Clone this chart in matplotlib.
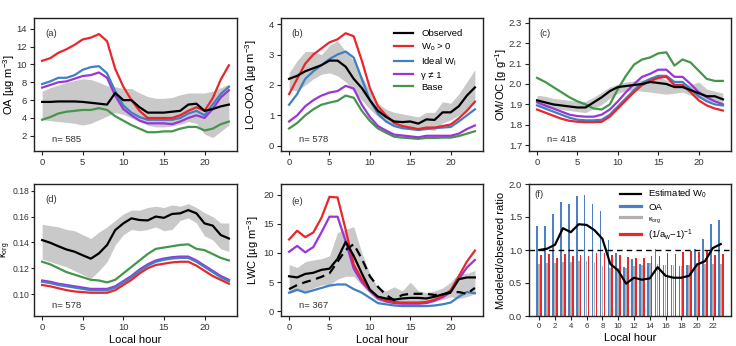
import matplotlib
matplotlib.use("Agg")
import matplotlib.pyplot as plt
from matplotlib.lines import Line2D
import numpy as np

plt.rcParams['font.family'] = ['Liberation Sans', 'DejaVu Sans']
plt.rcParams['mathtext.fontset'] = 'custom'
plt.rcParams['mathtext.rm'] = 'Liberation Sans'
plt.rcParams['mathtext.it'] = 'Liberation Sans:italic'

hours = list(range(24))

# (a) OA
a_obs = [5.8, 5.8, 5.85, 5.85, 5.85, 5.8, 5.7, 5.6, 5.5, 6.8, 6.0, 6.0, 5.2, 4.6, 4.6, 4.6, 4.7, 4.8, 5.5, 5.6, 4.8, 5.0, 5.3, 5.5]
a_lo = [3.8, 3.7, 3.6, 3.5, 3.4, 3.2, 3.4, 3.8, 4.2, 4.6, 4.4, 4.0, 3.6, 3.2, 3.0, 3.0, 3.1, 3.3, 3.6, 3.4, 2.2, 1.8, 2.5, 3.2]
a_hi = [7.0, 7.4, 7.7, 8.0, 8.2, 8.4, 8.3, 8.0, 7.6, 7.5, 7.3, 7.3, 6.8, 6.4, 6.2, 6.2, 6.3, 6.6, 6.8, 6.8, 6.8, 7.0, 7.4, 7.8]
a_wo = [10.4, 10.7, 11.3, 11.7, 12.2, 12.8, 13.0, 13.4, 12.6, 9.5, 7.5, 6.0, 4.8, 4.0, 4.0, 4.0, 4.0, 4.3, 4.8, 5.2, 4.8, 6.2, 8.3, 9.9]
a_ideal = [7.8, 8.1, 8.5, 8.5, 8.8, 9.4, 9.7, 9.8, 9.0, 7.0, 5.4, 4.6, 4.1, 3.8, 3.8, 3.8, 3.8, 4.0, 4.5, 4.8, 4.3, 5.5, 6.7, 7.5]
a_gamma = [7.4, 7.7, 8.0, 8.1, 8.4, 8.7, 8.8, 9.1, 8.5, 6.5, 5.0, 4.3, 3.7, 3.4, 3.4, 3.4, 3.3, 3.6, 4.0, 4.3, 4.0, 5.0, 6.3, 7.1]
a_base = [3.8, 4.1, 4.5, 4.7, 4.8, 4.9, 4.9, 5.1, 4.9, 4.2, 3.7, 3.2, 2.8, 2.4, 2.4, 2.5, 2.5, 2.8, 3.0, 3.0, 2.6, 2.8, 3.3, 3.6]

# (b) LO-OOA
b_obs = [2.2, 2.3, 2.45, 2.55, 2.65, 2.8, 2.8, 2.6, 2.2, 1.9, 1.5, 1.15, 0.95, 0.8, 0.78, 0.8, 0.73, 0.87, 0.85, 1.1, 1.1, 1.3, 1.65, 1.92]
b_lo = [1.85, 1.8, 2.0, 2.2, 2.35, 2.4, 2.3, 2.1, 1.8, 1.5, 1.2, 0.95, 0.8, 0.65, 0.6, 0.62, 0.55, 0.55, 0.5, 0.75, 0.85, 1.0, 1.2, 1.4]
b_hi = [2.4, 2.8, 3.1, 3.1, 3.0, 3.3, 3.45, 3.1, 2.8, 2.3, 1.8, 1.4, 1.2, 1.1, 1.05, 1.0, 0.95, 1.1, 1.1, 1.45, 1.4, 1.7, 2.1, 2.5]
b_wo = [1.7, 2.2, 2.7, 3.0, 3.2, 3.4, 3.5, 3.7, 3.6, 2.8, 1.9, 1.3, 1.0, 0.75, 0.65, 0.6, 0.55, 0.6, 0.6, 0.65, 0.7, 0.9, 1.15, 1.45]
b_ideal = [1.35, 1.7, 2.2, 2.45, 2.65, 2.85, 3.0, 3.1, 2.9, 2.2, 1.5, 1.05, 0.8, 0.65, 0.58, 0.55, 0.52, 0.55, 0.58, 0.6, 0.62, 0.8, 1.0, 1.2]
b_gamma = [0.8, 1.0, 1.3, 1.5, 1.65, 1.75, 1.8, 1.97, 1.88, 1.35, 0.95, 0.65, 0.5, 0.37, 0.34, 0.31, 0.28, 0.33, 0.33, 0.33, 0.33, 0.4, 0.55, 0.67]
b_base = [0.57, 0.75, 1.0, 1.2, 1.35, 1.42, 1.48, 1.65, 1.58, 1.15, 0.82, 0.57, 0.43, 0.3, 0.27, 0.25, 0.23, 0.26, 0.26, 0.27, 0.27, 0.32, 0.4, 0.48]

# (c) OM/OC
c_obs = [1.92, 1.91, 1.90, 1.895, 1.89, 1.885, 1.885, 1.91, 1.935, 1.965, 1.985, 1.99, 1.995, 2.0, 2.01, 2.005, 2.0, 1.985, 1.985, 1.97, 1.955, 1.94, 1.94, 1.925]
c_lo = [1.89, 1.885, 1.88, 1.875, 1.87, 1.865, 1.86, 1.88, 1.9, 1.93, 1.955, 1.965, 1.97, 1.965, 1.96, 1.955, 1.95, 1.955, 1.96, 1.945, 1.93, 1.915, 1.915, 1.905]
c_hi = [1.945, 1.94, 1.93, 1.925, 1.92, 1.915, 1.915, 1.935, 1.96, 1.985, 2.0, 2.01, 2.015, 2.02, 2.03, 2.035, 2.02, 2.005, 2.005, 1.995, 2.01, 1.975, 1.965, 1.955]
c_wo = [1.875, 1.86, 1.845, 1.83, 1.82, 1.815, 1.813, 1.813, 1.815, 1.84, 1.88, 1.92, 1.96, 1.995, 2.015, 2.03, 2.035, 1.995, 1.995, 1.96, 1.92, 1.895, 1.88, 1.87]
c_ideal = [1.895, 1.88, 1.865, 1.85, 1.835, 1.825, 1.822, 1.822, 1.825, 1.85, 1.89, 1.93, 1.97, 2.005, 2.025, 2.04, 2.04, 2.01, 2.01, 1.975, 1.94, 1.915, 1.9, 1.895]
c_gamma = [1.91, 1.895, 1.88, 1.865, 1.85, 1.843, 1.84, 1.84, 1.85, 1.875, 1.915, 1.96, 2.0, 2.035, 2.05, 2.07, 2.07, 2.035, 2.035, 2.0, 1.96, 1.935, 1.915, 1.9]
c_base = [2.03, 2.01, 1.985, 1.96, 1.935, 1.915, 1.9, 1.88, 1.875, 1.9, 1.975, 2.04, 2.095, 2.12, 2.13, 2.15, 2.155, 2.09, 2.12, 2.105, 2.065, 2.025, 2.015, 2.015]

# (d) kappa_org
d_obs = [0.1418, 0.1397, 0.137, 0.1345, 0.1328, 0.130, 0.1274, 0.1315, 0.138, 0.1495, 0.1547, 0.1586, 0.1573, 0.157, 0.160, 0.159, 0.162, 0.1625, 0.165, 0.1625, 0.1547, 0.153, 0.1457, 0.143]
d_lo = [0.127, 0.125, 0.123, 0.121, 0.118, 0.115, 0.112, 0.118, 0.125, 0.138, 0.146, 0.150, 0.149, 0.150, 0.152, 0.149, 0.150, 0.157, 0.159, 0.155, 0.145, 0.142, 0.135, 0.133]
d_hi = [0.154, 0.153, 0.152, 0.150, 0.149, 0.146, 0.143, 0.148, 0.152, 0.157, 0.162, 0.165, 0.165, 0.167, 0.168, 0.167, 0.169, 0.168, 0.170, 0.167, 0.163, 0.160, 0.155, 0.155]
d_wo = [0.107, 0.106, 0.1045, 0.103, 0.102, 0.1015, 0.101, 0.101, 0.101, 0.103, 0.107, 0.111, 0.116, 0.120, 0.1225, 0.1235, 0.1245, 0.125, 0.125, 0.122, 0.118, 0.114, 0.111, 0.108]
d_ideal = [0.1095, 0.1085, 0.107, 0.106, 0.105, 0.104, 0.103, 0.103, 0.103, 0.105, 0.109, 0.113, 0.118, 0.122, 0.125, 0.1265, 0.1275, 0.128, 0.128, 0.125, 0.121, 0.117, 0.113, 0.110]
d_gamma = [0.1105, 0.1095, 0.108, 0.107, 0.106, 0.105, 0.104, 0.104, 0.104, 0.106, 0.110, 0.114, 0.119, 0.123, 0.126, 0.1275, 0.1285, 0.129, 0.129, 0.126, 0.122, 0.118, 0.114, 0.111]
d_base = [0.125, 0.123, 0.120, 0.117, 0.115, 0.113, 0.111, 0.1105, 0.109, 0.111, 0.116, 0.121, 0.126, 0.131, 0.135, 0.136, 0.137, 0.138, 0.1385, 0.135, 0.134, 0.131, 0.128, 0.126]

# (e) LWC
e_obs = [6.0, 5.8, 6.4, 6.6, 7.1, 7.3, 9.0, 11.9, 9.5, 6.5, 3.7, 2.5, 2.2, 2.0, 2.2, 2.3, 2.3, 2.2, 2.5, 2.9, 3.3, 5.5, 5.8, 5.8]
e_obs2 = [3.8, 4.5, 5.0, 5.4, 5.9, 6.5, 8.5, 10.5, 11.5, 9.0, 6.0, 4.2, 2.8, 1.9, 2.8, 3.0, 3.0, 3.0, 2.8, 2.9, 3.2, 3.3, 3.0, 4.0]
e_lo = [3.0, 3.5, 3.5, 4.0, 4.5, 4.5, 5.5, 6.0, 6.0, 4.5, 3.0, 1.8, 1.5, 1.3, 1.5, 1.5, 1.5, 1.5, 1.7, 2.0, 2.5, 2.2, 2.5, 3.0]
e_hi = [8.0, 7.5, 8.5, 8.8, 9.0, 9.5, 13.5, 14.0, 14.5, 10.0, 6.5, 4.0, 3.5, 4.2, 3.5, 5.0, 3.5, 3.2, 3.5, 4.0, 5.0, 6.5, 6.5, 7.0]
e_wo = [12.3, 13.8, 12.7, 13.5, 16.0, 19.6, 19.5, 14.0, 8.0, 5.5, 3.7, 2.4, 1.9, 1.6, 1.5, 1.5, 1.5, 1.6, 2.0, 2.6, 3.6, 6.0, 8.5, 10.4]
e_gamma = [10.2, 11.2, 10.1, 11.0, 13.5, 16.2, 16.2, 12.0, 7.3, 5.0, 3.5, 2.2, 1.7, 1.4, 1.3, 1.3, 1.3, 1.4, 1.8, 2.4, 3.3, 5.5, 7.5, 8.8]
e_ideal = [3.2, 3.7, 3.2, 3.6, 4.0, 4.4, 4.6, 4.6, 3.8, 3.2, 2.3, 1.4, 1.2, 1.0, 0.9, 0.9, 0.9, 0.9, 1.0, 1.2, 1.5, 2.5, 3.3, 3.1]

# (f) ratios
f_oa = [1.36, 1.36, 1.55, 1.72, 1.70, 1.82, 1.83, 1.70, 1.59, 1.15, 0.96, 0.74, 0.87, 0.79, 0.80, 1.01, 0.78, 0.78, 0.76, 0.78, 1.01, 1.16, 1.40, 1.46]
f_kappa = [0.79, 0.80, 0.80, 0.82, 0.82, 0.83, 0.83, 0.80, 0.76, 0.73, 0.72, 0.73, 0.76, 0.78, 0.80, 0.79, 0.78, 0.77, 0.76, 0.78, 0.80, 0.79, 0.79, 0.79]
f_aw = [0.92, 0.94, 0.88, 0.94, 0.91, 0.92, 0.91, 0.95, 0.95, 0.93, 0.92, 0.90, 0.88, 0.88, 0.91, 0.91, 0.96, 0.94, 0.97, 0.98, 0.97, 0.98, 0.93, 0.94]
f_w0 = [1.0, 1.02, 1.08, 1.33, 1.27, 1.39, 1.38, 1.30, 1.17, 0.79, 0.69, 0.49, 0.58, 0.55, 0.57, 0.74, 0.61, 0.58, 0.58, 0.61, 0.78, 0.83, 1.03, 1.09]

RED = '#e8262b'
BLUE = '#3f7fc4'
PURPLE = '#9a35d6'
GREEN = '#44964a'
BAND = '#c9c9c9'
BAR_BLUE = '#4b80c2'
BAR_GREY = '#b0b0b0'
BAR_RED = '#e8282b'
LW = 1.6
TXT = '#333333'

W, H = 736, 346
fig = plt.figure(figsize=(W / 100, H / 100), dpi=100)

def box(l, t, w, h):
    return [l / W, 1 - (t + h) / H, w / W, h / H]

ax_a = fig.add_axes(box(34, 18, 203, 133))
ax_b = fig.add_axes(box(281, 18, 202, 133))
ax_c = fig.add_axes(box(529, 18, 202, 133))
ax_d = fig.add_axes(box(34, 184, 203, 132))
ax_e = fig.add_axes(box(281, 184, 202, 132))
ax_f = fig.add_axes(box(529, 184, 202, 132))

TICK_FS = 6.8
LAB_FS = 8.0
SMALL_FS = 6.8

def style(ax):
    ax.tick_params(labelsize=TICK_FS, direction='out', length=3, width=0.8, pad=2,
                   colors='#222222', labelcolor=TXT)
    for s in ax.spines.values():
        s.set_linewidth(1.0)
        s.set_color('#222222')

def tags(ax, tag, ntext, ty, ny, tx=0.054, nx=0.09):
    ax.text(tx, ty, tag, transform=ax.transAxes, fontsize=SMALL_FS, color=TXT, va='center')
    if ntext:
        ax.text(nx, ny, ntext, transform=ax.transAxes, fontsize=SMALL_FS, color=TXT, va='center')

def panel(ax, obs, lo, hi, wo, ideal, gamma, base, ylim, yticks, ylabel, labx, labfs=LAB_FS):
    ax.fill_between(hours, lo, hi, color=BAND, lw=0, zorder=1)
    ax.plot(hours, base, color=GREEN, lw=LW, zorder=3, label='Base')
    ax.plot(hours, gamma, color=PURPLE, lw=LW, zorder=3, label='γ ≠ 1')
    ax.plot(hours, ideal, color=BLUE, lw=LW, zorder=3, label='Ideal W$_\\mathregular{i}$')
    ax.plot(hours, wo, color=RED, lw=LW, zorder=3, label='W$_\\mathregular{o}$ > 0')
    ax.plot(hours, obs, color='black', lw=LW, zorder=4, label='Observed')
    ax.set_xlim(-1, 24)
    ax.set_xticks([0, 5, 10, 15, 20])
    ax.set_ylim(*ylim)
    ax.set_yticks(yticks)
    ax.set_ylabel(ylabel, fontsize=labfs)
    ax.yaxis.set_label_coords(labx, 0.5)
    style(ax)

panel(ax_a, a_obs, a_lo, a_hi, a_wo, a_ideal, a_gamma, a_base, (0.3, 15.2), [2, 4, 6, 8, 10, 12, 14],
      'OA [µg m$^{-3}$]', -0.082)
tags(ax_a, '(a)', 'n= 585', 0.88, 0.09)
panel(ax_b, b_obs, b_lo, b_hi, b_wo, b_ideal, b_gamma, b_base, (-0.17, 4.2), [0, 1, 2, 3, 4],
      'LO−OOA [µg m$^{-3}$]', -0.108)
tags(ax_b, '(b)', 'n= 578', 0.886, 0.088, tx=0.053)
panel(ax_c, c_obs, c_lo, c_hi, c_wo, c_ideal, c_gamma, c_base, (1.672, 2.323), [1.7, 1.8, 1.9, 2.0, 2.1, 2.2, 2.3],
      'OM/OC [g g$^{-1}$]', -0.099)
tags(ax_c, '(c)', 'n= 418', 0.88, 0.09, tx=0.05, nx=0.088)
panel(ax_d, d_obs, d_lo, d_hi, d_wo, d_ideal, d_gamma, d_base, (0.083, 0.1852), [0.10, 0.12, 0.14, 0.16, 0.18],
      'κ$_\\mathregular{org}$', -0.104, labfs=7.0)
ax_d.set_yticklabels(['0.10', '0.12', '0.14', '0.16', '0.18'])
ax_d.tick_params(axis='y', labelsize=6.2, pad=1, length=2.5)
tags(ax_d, '(d)', 'n= 578', 0.88, 0.078)

# legend in (b)
h, l = ax_b.get_legend_handles_labels()
order = [4, 3, 2, 1, 0]
ax_b.legend([h[i] for i in order], [l[i] for i in order], loc='upper left', frameon=False,
            fontsize=SMALL_FS, handlelength=2.0, handletextpad=0.9, labelspacing=0.3,
            borderpad=0.2, borderaxespad=0.0, bbox_to_anchor=(0.55, 0.93))

# (e)
ax_e.fill_between(hours, e_lo, e_hi, color=BAND, lw=0, zorder=1)
ax_e.plot(hours, e_ideal, color=BLUE, lw=LW, zorder=3)
ax_e.plot(hours, e_gamma, color=PURPLE, lw=LW, zorder=3)
ax_e.plot(hours, e_wo, color=RED, lw=LW, zorder=3)
ax_e.plot(hours, e_obs, color='black', lw=LW, zorder=4)
ax_e.plot(hours, e_obs2, color='black', lw=LW, ls=(0, (4, 2.5)), zorder=4)
ax_e.set_xlim(-1, 24)
ax_e.set_xticks([0, 5, 10, 15, 20])
ax_e.set_ylim(-0.8, 21.8)
ax_e.set_yticks([0, 5, 10, 15, 20])
ax_e.set_ylabel('LWC [µg m$^{-3}$]', fontsize=LAB_FS)
ax_e.yaxis.set_label_coords(-0.099, 0.5)
style(ax_e)
tags(ax_e, '(e)', 'n= 367', 0.87, 0.076, tx=0.053)

# (f)
x = np.arange(24)
bw = 0.2
ax_f.bar(x - 0.25, f_oa, width=bw, color=BAR_BLUE, zorder=2)
ax_f.bar(x, f_kappa, width=bw, color=BAR_GREY, zorder=2)
ax_f.bar(x + 0.25, f_aw, width=bw, color=BAR_RED, zorder=2)
ax_f.plot(x, f_w0, color='black', lw=LW, zorder=4)
ax_f.axhline(1.0, color='black', lw=1.0, ls=(0, (4, 3)), zorder=3)
ax_f.set_xlim(-1.3, 24.3)
ax_f.set_xticks(list(range(0, 24, 2)))
ax_f.set_ylim(0, 2.0)
ax_f.set_yticks([0.0, 0.5, 1.0, 1.5, 2.0])
ax_f.set_ylabel('Modeled/observed ratio', fontsize=LAB_FS)
ax_f.yaxis.set_label_coords(-0.112, 0.5)
style(ax_f)
ax_f.tick_params(axis='x', labelsize=5.6)
tags(ax_f, '(f)', None, 0.917, 0.0, tx=0.025)
handles_f = [Line2D([], [], color='black', lw=LW),
             Line2D([], [], color=BAR_BLUE, lw=2.3),
             Line2D([], [], color=BAR_GREY, lw=2.3),
             Line2D([], [], color=BAR_RED, lw=2.3)]
labels_f = ['Estimated W$_\\mathregular{0}$', 'OA', 'κ$_\\mathregular{org}$', '(1/a$_\\mathregular{w}$−1)$^{-1}$']
leg = ax_f.legend(handles_f, labels_f, loc='upper left', frameon=False,
                  fontsize=SMALL_FS, handlelength=2.3, handletextpad=0.7, labelspacing=0.25,
                  borderpad=0.2, borderaxespad=0.0, bbox_to_anchor=(0.44, 0.985))
for t in leg.get_texts():
    if 'org' in t.get_text():
        t.set_fontsize(5.2)

for ax in (ax_d, ax_e, ax_f):
    ax.set_xlabel('Local hour', fontsize=LAB_FS, labelpad=2)

fig.savefig('out.png', dpi=100)
